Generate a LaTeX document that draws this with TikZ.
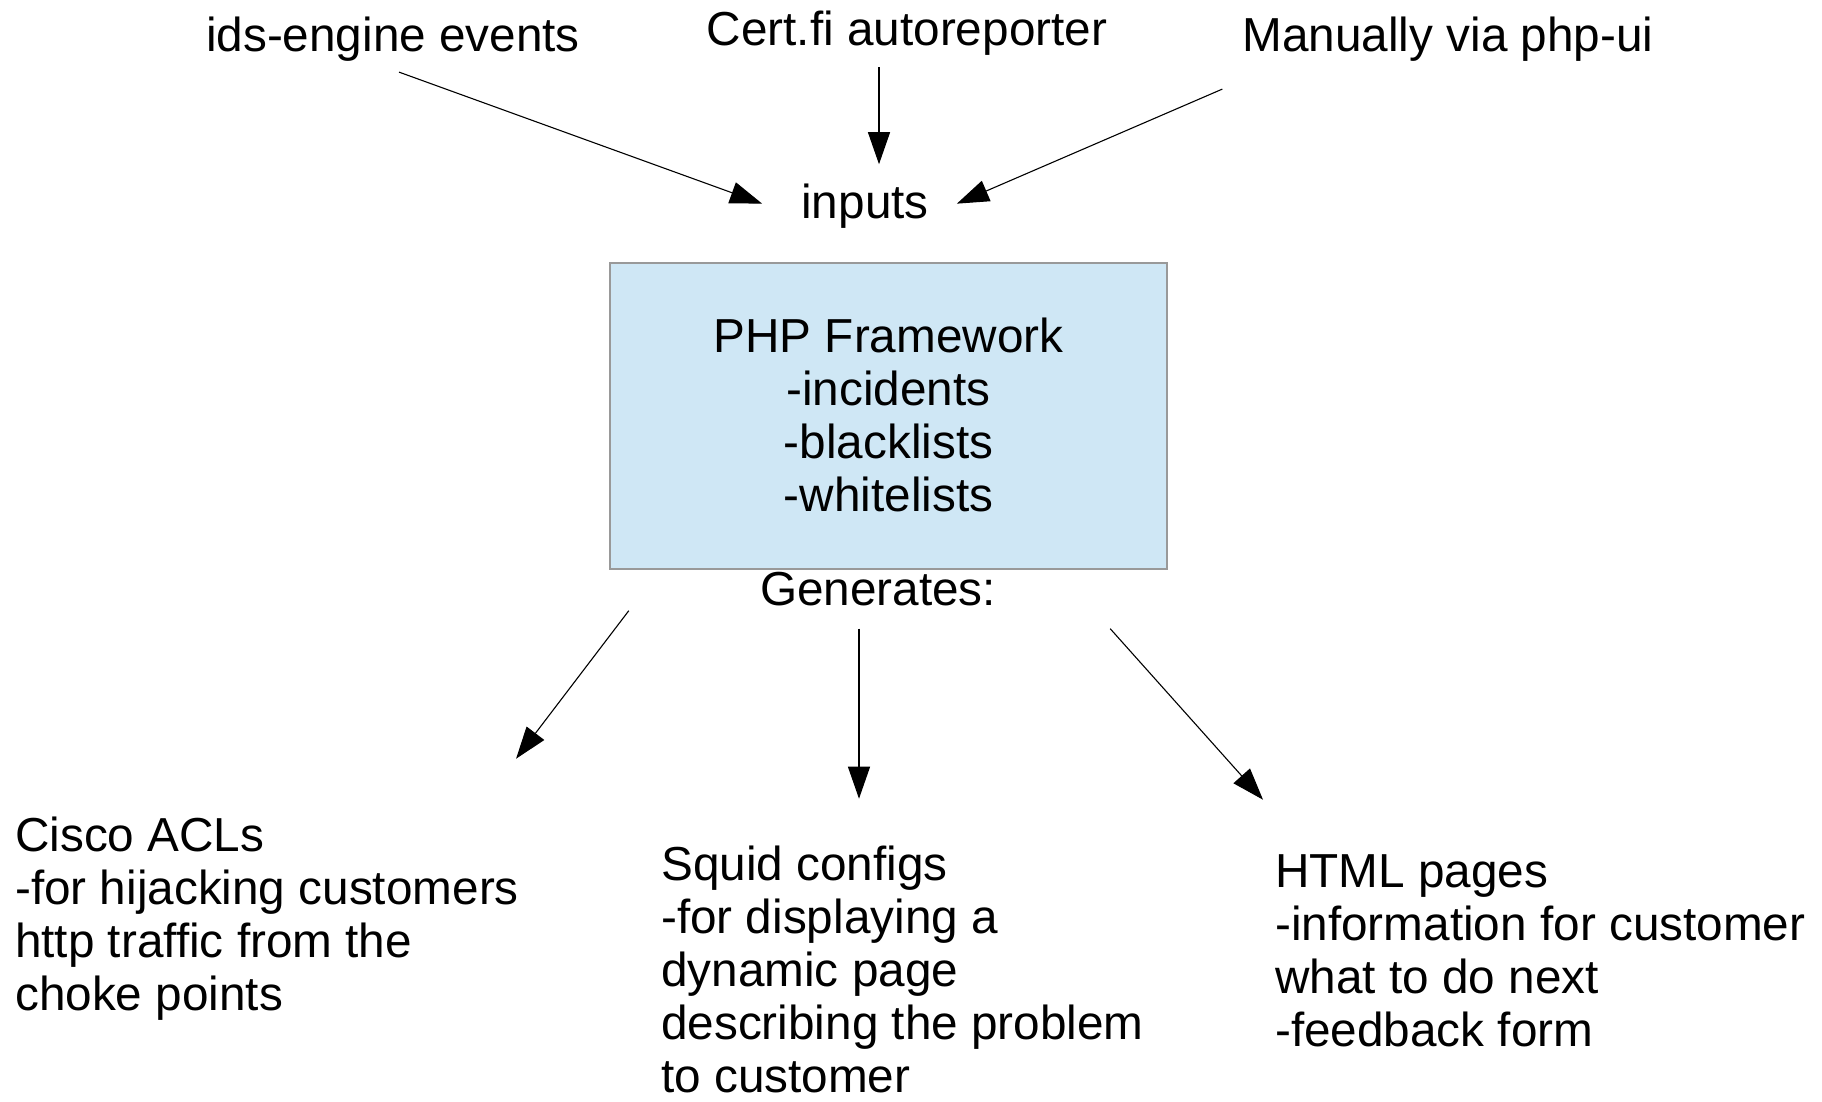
\documentclass[tikz,border=0pt]{standalone}
\usepackage{fontspec}
\setmainfont{Liberation Sans}
\usetikzlibrary{arrows.meta,calc}
\definecolor{boxfill}{HTML}{CFE7F5}
\definecolor{boxline}{HTML}{999999}
\begin{document}
\begin{tikzpicture}[x=1pt,y=-1pt,
  lbl/.style={inner sep=0pt, font=\fontsize{47.7}{53}\selectfont, anchor=base},
  blk/.style={inner sep=0pt, font=\fontsize{47.7}{53}\selectfont, anchor=base west},
  arr/.style={draw=black, line width=1.1pt, -{Triangle[length=32pt,width=22pt]}},
  frame/.style={draw=boxline, fill=boxfill, line width=1.2pt, minimum width=557pt, minimum height=306pt, inner sep=0pt, font=\fontsize{47.7}{53}\selectfont}]
\useasboundingbox (0,0) rectangle (1822,1101);

% top inputs
\node[lbl] (ids) at (393,51) {ids-engine events};
\node[lbl] (cert) at (907,45) {Cert.fi autoreporter};
\node[lbl] (manual) at (1448,51) {Manually via php-ui};
\node[lbl] (inputs) at (865,218) {inputs};

% framework box
\node[frame] (php) at (888.5,416) {\raisebox{-5.5pt}[\height][\depth]{\begin{tabular}{@{}c@{}}PHP Framework\\-incidents\\-blacklists\\-whitelists\end{tabular}}};
\node[lbl] (gen) at (878,605) {Generates:};

% outputs
\node[blk] (cisco) at (15,851) {\begin{tabular}[t]{@{}l@{}}Cisco ACLs\\-for hijacking customers\\http traffic from the\\choke points\end{tabular}};
\node[blk] (squid) at (661,880) {\begin{tabular}[t]{@{}l@{}}Squid configs\\-for displaying a\\dynamic page\\describing the problem\\to customer\end{tabular}};
\node[blk] (html) at (1275,887) {\begin{tabular}[t]{@{}l@{}}HTML pages\\-information for customer\\what to do next\\-feedback form\end{tabular}};

% input arrows
\draw[arr] ($(ids.south)+(6,11)$) -- ($(inputs.west)+(-39,-2)$);
\draw[arr] ($(cert.south)+(-28,12)$) coordinate (c0) -- ($(c0 |- inputs.north)+(0,-19)$);
\draw[arr] ($(manual.south west)+(-20,28)$) -- ($(inputs.east)+(28,-2)$);

% output arrows
\draw[arr] ($(gen.south west)+(-131,5)$) -- ($(cisco.north east)+(-3,-55)$);
\draw[arr] ($(gen.south)+(-19,23)$) coordinate (g0) -- ($(g0 |- squid.north)+(0,-44)$);
\draw[arr] ($(gen.south east)+(114,23)$) -- ($(html.north west)+(-12,-50)$);
\end{tikzpicture}
\end{document}
